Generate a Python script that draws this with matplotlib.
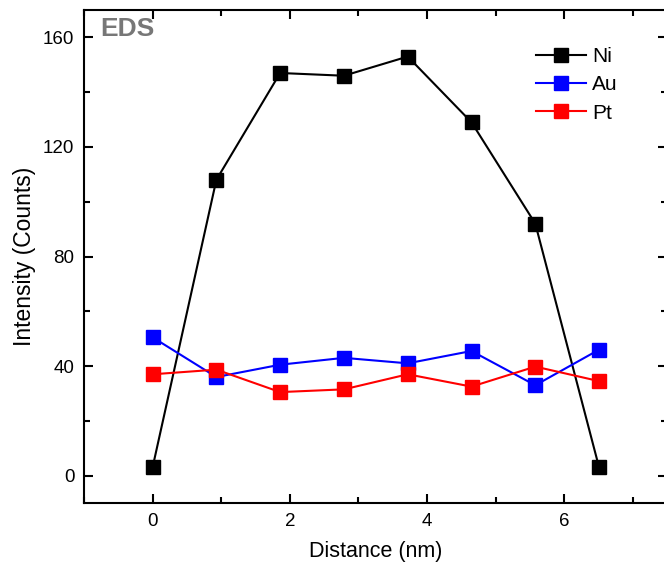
import matplotlib.pyplot as plt
from matplotlib.ticker import MultipleLocator

plt.rcParams['font.family'] = ['Liberation Sans', 'DejaVu Sans']

distance = [0, 0.93, 1.86, 2.79, 3.72, 4.65, 5.58, 6.51]
ni = [3, 108, 147, 146, 153, 129, 92, 3]
au = [50.5, 36, 40.5, 43, 41, 45.5, 33, 46]
pt = [37, 38.7, 30.5, 31.5, 37, 32.5, 39.8, 34.5]

fig = plt.figure(figsize=(6.64, 5.68), dpi=100)
ax = fig.add_axes([0.1265, 0.1144, 0.878, 0.868])

for y, c, name in [(ni, 'black', 'Ni'), (au, 'blue', 'Au'), (pt, 'red', 'Pt')]:
    ax.plot(distance, y, color=c, marker='s', markersize=9.5, linewidth=1.5, label=name)

ax.set_xlim(-1, 7.5)
ax.set_ylim(-10, 170)
ax.xaxis.set_major_locator(MultipleLocator(2))
ax.xaxis.set_minor_locator(MultipleLocator(1))
ax.yaxis.set_major_locator(MultipleLocator(40))
ax.yaxis.set_minor_locator(MultipleLocator(20))
ax.tick_params(which='both', direction='in', top=True, right=True, width=1.5, labelsize=13.5)
ax.tick_params(which='major', length=6.5, pad=7)
ax.tick_params(which='minor', length=4)
for s in ax.spines.values():
    s.set_linewidth(1.5)

ax.set_xlabel('Distance (nm)', fontsize=15.5, labelpad=8)
ax.set_ylabel('Intensity (Counts)', fontsize=16.5, labelpad=5)
ax.text(0.028, 0.985, 'EDS', transform=ax.transAxes, fontsize=19, fontweight='bold',
        color='#777777', va='top', ha='left')

ax.legend(loc='upper right', bbox_to_anchor=(0.948, 0.963), frameon=False, fontsize=15,
          handlelength=2.4, handletextpad=0.3, labelspacing=0.45)

fig.savefig('out.png', dpi=100)
